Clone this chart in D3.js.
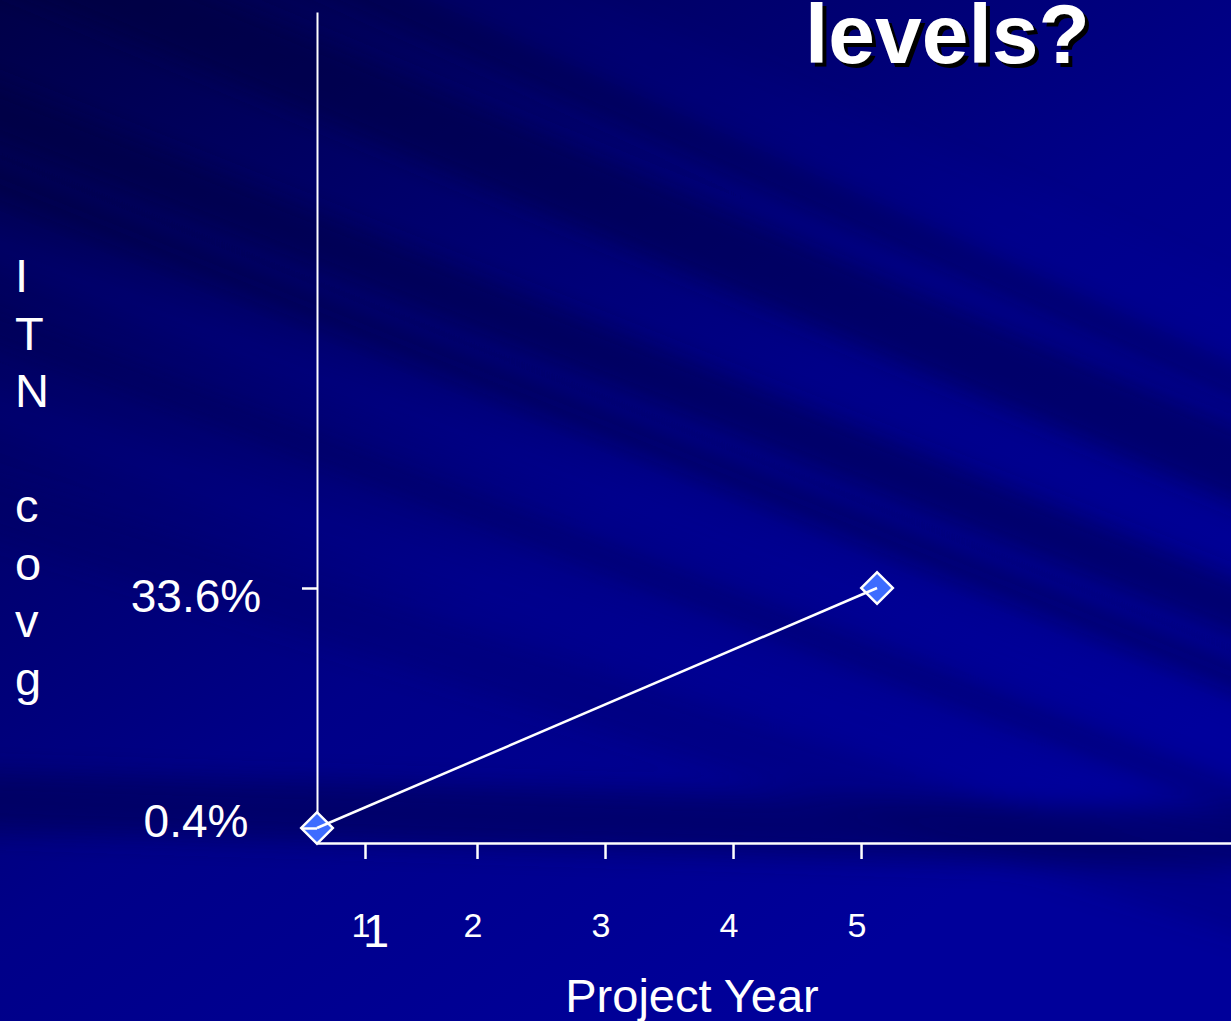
<!DOCTYPE html>
<html>
<head>
<meta charset="utf-8">
<script src="https://cdn.jsdelivr.net/npm/d3@7"></script>
<style>
  html, body { margin: 0; padding: 0; background: #00008a; overflow: hidden; }
  svg { display: block; font-family: 'Liberation Sans', Arial, sans-serif; }
</style>
</head>
<body>
<svg id="chart"></svg>
<script>
const width = 1231
const height = 1021

// data
const years = [0.75, 5.125]
const coverage = [0.4, 33.6]
const yTicks = [0.4, 33.6]
const yTickLabels = ['0.4%', '33.6%']
const xTicks = [1.125, 2, 3, 4, 5]
const xTickLabels = ['1', '2', '3', '4', '5']
const yTitle = ['I', 'T', 'N', '', 'c', 'o', 'v', 'g']
const title = 'levels?'
const xTitle = 'Project Year'

const margin = { left: 317, top: 12, bottom: 843 }
const yLabelDy = [9, 24]

const x = d3.scaleLinear()
  .domain([0.75, 7.89])
  .range([margin.left, width])

const y = d3.scaleLinear()
  .domain([-1.675, 113.28])
  .range([margin.bottom, margin.top])

const svg = d3.select('#chart')
  .attr('width', width)
  .attr('height', height)

// slide background: dark top-left, soft diagonal streaks
const defs = svg.append('defs')
const bg = defs.append('linearGradient')
  .attr('id', 'bg')
  .attr('x1', 0).attr('y1', 0).attr('x2', 0.75).attr('y2', 0.9)
bg.append('stop').attr('offset', 0).attr('stop-color', '#000048')
bg.append('stop').attr('offset', 0.3).attr('stop-color', '#00006a')
bg.append('stop').attr('offset', 0.6).attr('stop-color', '#000088')
bg.append('stop').attr('offset', 1).attr('stop-color', '#00009a')

defs.append('filter').attr('id', 'blur')
  .attr('filterUnits', 'userSpaceOnUse')
  .attr('x', -100).attr('y', -300).attr('width', 1500).attr('height', 1600)
  .append('feGaussianBlur').attr('stdDeviation', 12)

svg.append('rect')
  .attr('width', width)
  .attr('height', height)
  .attr('fill', 'url(#bg)')

// band = [left y0, left y1, slope, colour, opacity]
const streaks = [
  [-120, -40, 0.42, '#000038', 0.4],
  [60, 120, 0.40, '#000038', 0.4],
  [140, 175, 0.40, '#000034', 0.35],
  [205, 245, 0.40, '#2020b0', 0.12],
  [290, 320, 0.38, '#000044', 0.3],
  [365, 410, 0.36, '#1c1cb0', 0.1],
  [-300, -230, 0.45, '#2020b8', 0.08],
  [-220, -180, 0.45, '#00003c', 0.3],
  [460, 520, 0.32, '#000058', 0.2],
  [770, 830, 0.03, '#00004a', 0.5]
]
svg.append('g')
  .attr('filter', 'url(#blur)')
  .selectAll('path')
  .data(streaks)
  .join('path')
  .attr('d', d => `M-60,${d[0]} L1300,${d[0] + 1360 * d[2]} L1300,${d[1] + 1360 * d[2]} L-60,${d[1]} Z`)
  .attr('fill', d => d[3])
  .attr('opacity', d => d[4])

// title
const titleG = svg.append('g')
  .style('font', 'bold 84px "Liberation Sans", Arial, sans-serif')
titleG.append('text')
  .attr('x', 809).attr('y', 67)
  .attr('fill', '#000000')
  .text(title)
titleG.append('text')
  .attr('x', 805).attr('y', 63)
  .attr('fill', '#ffffff')
  .text(title)

// axis lines
svg.append('g')
  .attr('transform', `translate(0,${margin.bottom})`)
  .call(d3.axisBottom(x).tickValues([]).tickSizeOuter(0))
  .call(g => g.select('.domain').attr('stroke', '#fff').attr('stroke-width', 2.5))

svg.append('g')
  .attr('transform', `translate(${margin.left},0)`)
  .call(d3.axisLeft(y).tickValues([]).tickSizeOuter(0))
  .call(g => g.select('.domain').attr('stroke', '#fff').attr('stroke-width', 2))

// markers
const points = years.map((yr, i) => ({ yr, v: coverage[i] }))
const diamond = d3.symbol().type(d3.symbolSquare).size(500)

svg.append('g')
  .selectAll('path')
  .data(points)
  .join('path')
  .attr('d', diamond)
  .attr('transform', d => `translate(${x(d.yr)},${y(d.v)}) rotate(45)`)
  .attr('fill', '#3d6cff')
  .attr('stroke', '#fff')
  .attr('stroke-width', 2.5)

// series line
svg.append('path')
  .datum(points)
  .attr('fill', 'none')
  .attr('stroke', '#fff')
  .attr('stroke-width', 2.5)
  .attr('d', d3.line().x(d => x(d.yr)).y(d => y(d.v)))

// y ticks (drawn over the markers)
svg.append('g')
  .attr('transform', `translate(${margin.left},0)`)
  .call(d3.axisLeft(y).tickValues(yTicks).tickSize(15).tickFormat(''))
  .call(g => g.select('.domain').remove())
  .call(g => g.selectAll('line').attr('stroke', '#fff').attr('stroke-width', 2.5))

svg.append('g')
  .selectAll('text')
  .data(yTicks)
  .join('text')
  .attr('x', 196)
  .attr('y', (d, i) => y(d) + yLabelDy[i])
  .attr('text-anchor', 'middle')
  .attr('fill', '#fff')
  .style('font-size', '46px')
  .text((d, i) => yTickLabels[i])

// x ticks
svg.append('g')
  .attr('transform', `translate(0,${margin.bottom})`)
  .call(d3.axisBottom(x).tickValues(xTicks).tickSize(16).tickFormat(''))
  .call(g => g.select('.domain').remove())
  .call(g => g.selectAll('line').attr('stroke', '#fff').attr('stroke-width', 2.5))

svg.append('g')
  .selectAll('text')
  .data(xTicks)
  .join('text')
  .attr('x', d => x(d) - 4)
  .attr('y', 937)
  .attr('text-anchor', 'middle')
  .attr('fill', '#fff')
  .style('font-size', '34px')
  .text((d, i) => xTickLabels[i])

// overlapping larger "1" below the first tick
svg.append('text')
  .attr('x', x(xTicks[0]) + 11)
  .attr('y', 947)
  .attr('text-anchor', 'middle')
  .attr('fill', '#fff')
  .style('font-size', '47px')
  .text(xTickLabels[0])

// axis titles
svg.append('text')
  .attr('x', 692)
  .attr('y', 1012)
  .attr('text-anchor', 'middle')
  .attr('fill', '#fff')
  .style('font-size', '47px')
  .text(xTitle)

svg.append('g')
  .selectAll('text')
  .data(yTitle)
  .join('text')
  .attr('x', 15)
  .attr('y', (d, i) => 292 + i * 57.5)
  .attr('fill', '#fff')
  .style('font-size', '47px')
  .text(d => d)
</script>
</body>
</html>
